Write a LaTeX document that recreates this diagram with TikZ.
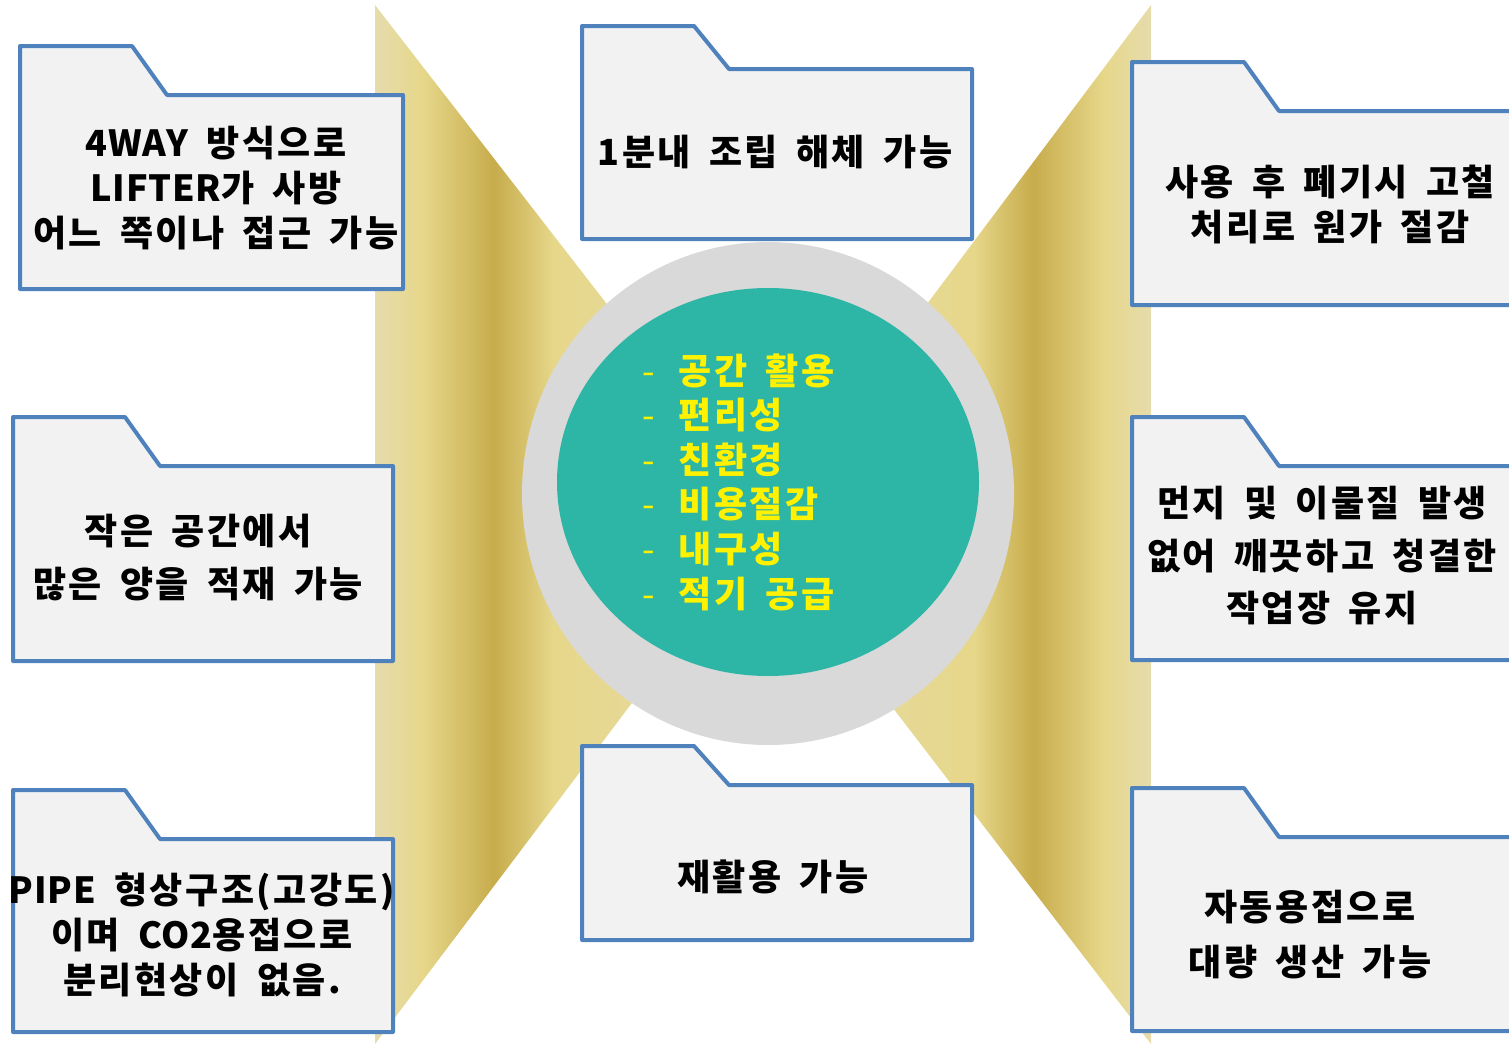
\documentclass[tikz,border=0pt]{standalone}
\usepackage{fontspec}
\setmainfont{Noto Sans CJK KR}[LetterSpace=7, WordSpace=1.7]
\newfontfamily\latinpart{Noto Sans CJK KR}[LetterSpace=2]
\usetikzlibrary{positioning}
\definecolor{gold0}{HTML}{E6DCAC}
\definecolor{gold1}{HTML}{E6D78A}
\definecolor{gold2}{HTML}{C7AC4C}
\definecolor{folderline}{HTML}{4F81BD}
\definecolor{folderfill}{HTML}{F2F2F2}
\definecolor{ring}{HTML}{D9D9D9}
\definecolor{core}{HTML}{2DB5A5}
\pgfdeclarehorizontalshading{goldfade}{100bp}{color(0bp)=(gold0); color(25bp)=(gold0); color(31bp)=(gold1); color(40bp)=(gold2); color(47.5bp)=(gold1); color(75bp)=(gold0); color(100bp)=(gold0)}
\tikzstyle{folder}=[draw=folderline, fill=folderfill, line width=4pt, line join=round]
\tikzstyle{txt}=[align=center, font=\fontsize{36}{45}\selectfont\bfseries]
\tikzstyle{wing}=[shading=goldfade]
% folder: x left, y of tab top, y of body top, x right, y bottom
\newcommand{\folderat}[5]{%
  \draw[folder] (#1,#3) -- (#1,#2) -- (#1+112,#2) -- (#1+147,#3) -- (#4,#3) -- (#4,#5) -- (#1,#5) -- cycle;}
\newcommand{\dashitem}{\makebox[36pt][l]{\mdseries -}}
\newcommand{\lat}[1]{{\latinpart\bfseries #1}}

\begin{document}
\begin{tikzpicture}[x=1pt,y=-1pt]
    \useasboundingbox (0,0) rectangle (1509,1044);
    \clip (0,0) rectangle (1509,1044);
    % gold wings
    \shade[wing] (375,5) -- (375,1044) -- (772,517) -- cycle;
    \shade[wing, shading angle=180] (1151,5) -- (1151,1044) -- (757,531) -- cycle;
    % centre disc
    \fill[ring] (768,493.5) ellipse [x radius=246, y radius=251.5];
    \fill[core] (768,482) ellipse [x radius=211, y radius=194];
    \node[anchor=west, text=yellow, align=left, font=\fontsize{36}{44.6}\selectfont\bfseries] (merits) at (639,482)
        {\dashitem 공간 활용\\\dashitem 편리성\\\dashitem 친환경\\\dashitem 비용절감\\\dashitem 내구성\\\dashitem 적기 공급};
    % folders
    \folderat{20}{46}{95}{403}{289}
    \folderat{582}{26}{69}{972}{239}
    \folderat{1132}{62}{111}{1530}{305}
    \folderat{13}{417}{466}{393}{661}
    \folderat{1132}{417}{466}{1530}{660}
    \folderat{13}{790}{839}{393}{1032}
    \folderat{582}{746}{785}{972}{940}
    \folderat{1132}{788}{837}{1530}{1031}
    % texts
    \node[txt] (way) at (216,188) {\lat{4WAY} 방식으로\\\lat{LIFTER}가 사방\\어느 쪽이나 접근 가능};
    \node[txt] (assembly) at (775,152) {1분내 조립 해체 가능};
    \node[txt] (scrap) at (1330,205) {사용 후 폐기시 고철\\처리로 원가 절감};
    \node[txt, font=\fontsize{36}{53}\selectfont\bfseries] (stack) at (198,558) {작은 공간에서\\많은 양을 적재 가능};
    \node[txt, font=\fontsize{36}{52.5}\selectfont\bfseries] (clean) at (1322,556) {먼지 및 이물질 발생\\없어 깨끗하고 청결한\\작업장 유지};
    \node[txt] (pipe) at (202,935) {\lat{PIPE} 형상구조(고강도)\\이며 \lat{CO2}용접으로\\분리현상이 없음.};
    \node[txt] (recycle) at (773,877) {재활용 가능};
    \node[txt, font=\fontsize{36}{55}\selectfont\bfseries] (weld) at (1310,935) {자동용접으로\\대량 생산 가능};
\end{tikzpicture}
\end{document}
